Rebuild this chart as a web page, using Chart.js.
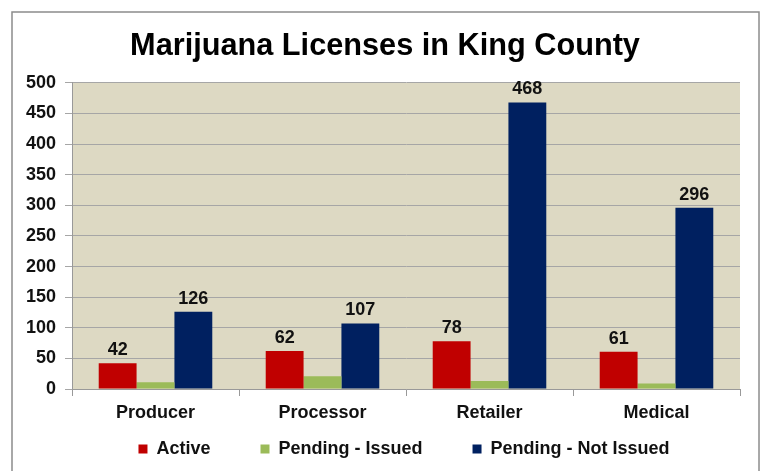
<!DOCTYPE html>
<html>
<head>
<meta charset="utf-8">
<script src="https://cdn.jsdelivr.net/npm/chart.js@4"></script>
<style>
  html, body { margin: 0; padding: 0; background: #fff; }
  #wrap { width: 767px; height: 471px; }
</style>
</head>
<body>
<div id="wrap"><canvas id="myChart" width="767" height="471"></canvas></div>
<script>
// data
const categories = ["Producer", "Processor", "Retailer", "Medical"];
const active = [42, 62, 78, 61];
const pendingIssued = [11, 21, 13, 9];
const pendingNotIssued = [126, 107, 468, 296];
const yTicks = [0, 50, 100, 150, 200, 250, 300, 350, 400, 450, 500];

const font = "'Liberation Sans', Arial, sans-serif";

// beige plot area + outer frame
const backdrop = {
  id: "backdrop",
  beforeDraw(chart) {
    const { ctx, chartArea } = chart;
    ctx.save();
    ctx.fillStyle = "#fff";
    ctx.fillRect(0, 0, chart.width, chart.height);
    ctx.strokeStyle = "#8c8c8c";
    ctx.lineWidth = 1.5;
    ctx.strokeRect(12, 12, 747, 480);
    ctx.fillStyle = "#ddd9c3";
    ctx.fillRect(chartArea.left, chartArea.top, chartArea.right - chartArea.left, chartArea.bottom - chartArea.top);
    ctx.restore();
  },
};

// value labels above red and blue bars
const valueLabels = {
  id: "valueLabels",
  afterDatasetsDraw(chart) {
    const { ctx } = chart;
    ctx.save();
    ctx.font = "bold 18px " + font;
    ctx.fillStyle = "#111";
    ctx.textAlign = "center";
    ctx.textBaseline = "bottom";
    [0, 2].forEach((di) => {
      const meta = chart.getDatasetMeta(di);
      meta.data.forEach((bar, i) => {
        ctx.fillText(chart.data.datasets[di].data[i], bar.x, bar.y - 4);
      });
    });
    ctx.restore();
  },
};

const data = {
  labels: categories,
  datasets: [
    {
      label: "Active",
      data: active,
      backgroundColor: "#c00000",
      borderColor: "#c00000",
      borderWidth: 0,
    },
    {
      label: "Pending - Issued",
      data: pendingIssued,
      backgroundColor: "#9bbb59",
      borderColor: "#9bbb59",
      borderWidth: 0,
    },
    {
      label: "Pending - Not Issued",
      data: pendingNotIssued,
      backgroundColor: "#002060",
      borderColor: "#002060",
      borderWidth: 0,
    },
  ],
};

const config = {
  type: "bar",
  data,
  plugins: [backdrop, valueLabels],
  options: {
    responsive: false,
    animation: false,
    devicePixelRatio: 1,
    categoryPercentage: 0.68,
    barPercentage: 1.0,
    layout: { padding: { left: 0, right: 27, top: 0, bottom: 4 } },
    plugins: {
      title: {
        display: true,
        text: "Marijuana Licenses in King County",
        color: "#000",
        font: { family: font, size: 30.7, weight: "bold" },
        padding: { top: 28, bottom: 18 },
      },
      legend: {
        position: "bottom",
        maxHeight: 44,
        labels: {
          color: "#111",
          font: { family: font, size: 18, weight: "bold" },
          boxWidth: 9,
          boxHeight: 9,
          padding: 50,
        },
      },
      tooltip: { enabled: false },
    },
    scales: {
      x: {
        afterFit(scale) {
          scale.height = 34;
        },
        grid: {
          display: true,
          drawOnChartArea: false,
          offset: true,
          tickLength: 7,
          color: "#999",
        },
        border: { color: "#999" },
        ticks: {
          color: "#111",
          font: { family: font, size: 18, weight: "bold" },
          padding: 6,
        },
      },
      y: {
        min: 0,
        max: 500,
        afterFit(scale) {
          scale.width = 72;
        },
        afterBuildTicks(scale) {
          scale.ticks = yTicks.map((v) => ({ value: v }));
        },
        grid: { color: "#a6a6a6", tickLength: 7 },
        border: { color: "#999" },
        ticks: {
          color: "#111",
          font: { family: font, size: 18, weight: "bold" },
          padding: 9,
        },
      },
    },
  },
};

const myChart = new Chart(document.getElementById("myChart"), config);

// shift a layout box while it draws (legend keeps its wide gaps, title sits a bit right)
function nudge(box, dx, dy) {
  const draw = box.draw.bind(box);
  box.draw = function () {
    const t = this.top, l = this.left, r = this.right;
    this.top = t + dy;
    this.left = l + dx;
    this.right = r + dx;
    draw();
    this.top = t;
    this.left = l;
    this.right = r;
  };
}
nudge(myChart.legend, 34, -33);
nudge(myChart.titleBlock, 15, 0);
myChart.draw();
</script>
</body>
</html>
